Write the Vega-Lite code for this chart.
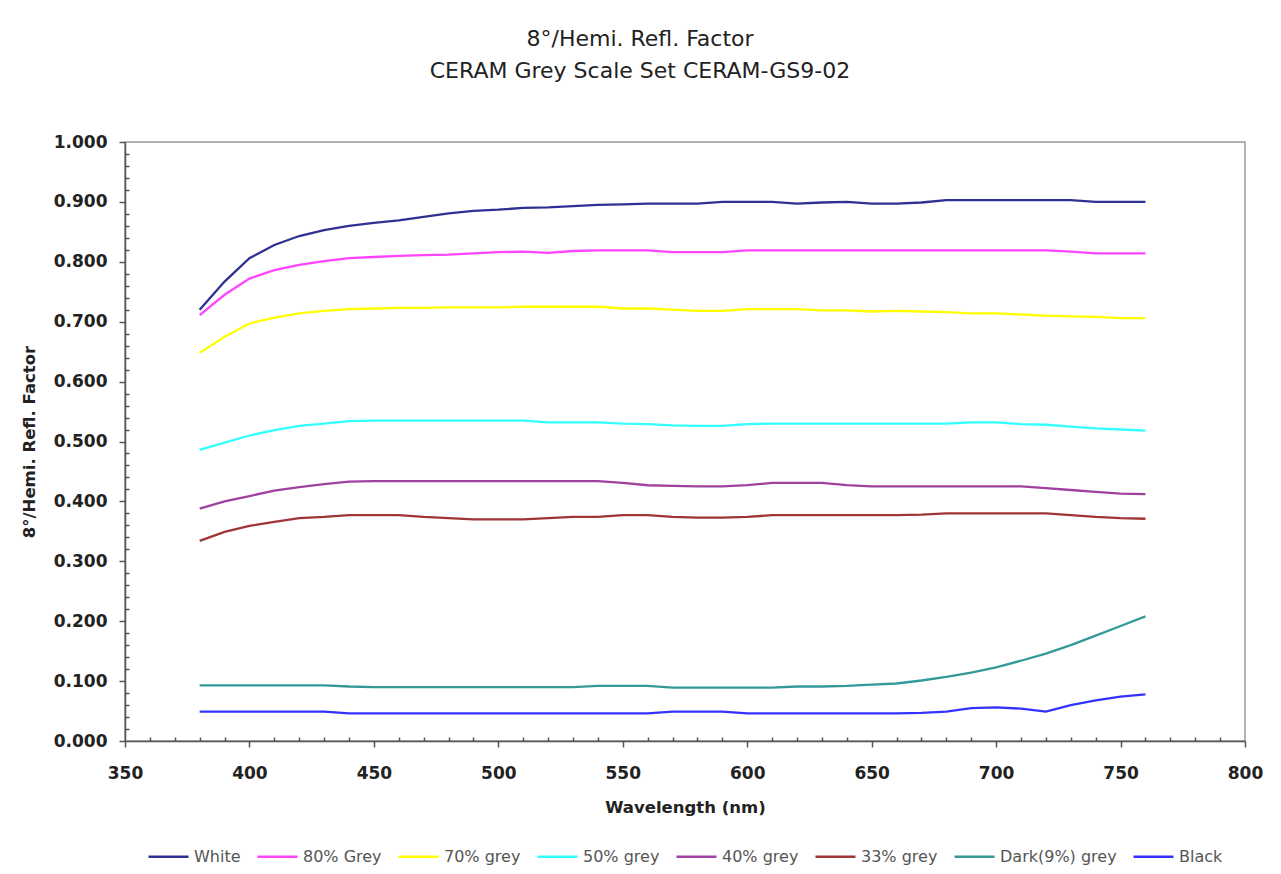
{
  "$schema": "https://vega.github.io/schema/vega-lite/v6.json",
  "width": 1120,
  "height": 599,
  "autosize": "none",
  "padding": {"left": 125, "top": 142, "right": 36, "bottom": 133},
  "background": "white",
  "config": {"view": {"stroke": "#999999", "strokeWidth": 1.5}, "font": "DejaVu Sans"},
  "title": {
    "text": ["8°/Hemi. Refl. Factor", "CERAM Grey Scale Set CERAM-GS9-02"],
    "fontSize": 22, "fontWeight": "normal", "font": "DejaVu Sans", "color": "#222222",
    "lineHeight": 32, "offset": 50, "dx": -45, "anchor": "middle"
  },
  "data": {"values": [
    {"nm": 380, "White": 0.720, "80% Grey": 0.711, "70% grey": 0.648, "50% grey": 0.486, "40% grey": 0.388, "33% grey": 0.334, "Dark(9%) grey": 0.093, "Black": 0.049},
    {"nm": 390, "White": 0.767, "80% Grey": 0.745, "70% grey": 0.675, "50% grey": 0.498, "40% grey": 0.400, "33% grey": 0.349, "Dark(9%) grey": 0.093, "Black": 0.049},
    {"nm": 400, "White": 0.806, "80% Grey": 0.772, "70% grey": 0.697, "50% grey": 0.510, "40% grey": 0.409, "33% grey": 0.359, "Dark(9%) grey": 0.093, "Black": 0.049},
    {"nm": 410, "White": 0.828, "80% Grey": 0.786, "70% grey": 0.707, "50% grey": 0.519, "40% grey": 0.418, "33% grey": 0.366, "Dark(9%) grey": 0.093, "Black": 0.049},
    {"nm": 420, "White": 0.843, "80% Grey": 0.795, "70% grey": 0.714, "50% grey": 0.526, "40% grey": 0.424, "33% grey": 0.372, "Dark(9%) grey": 0.093, "Black": 0.049},
    {"nm": 430, "White": 0.853, "80% Grey": 0.801, "70% grey": 0.718, "50% grey": 0.530, "40% grey": 0.429, "33% grey": 0.374, "Dark(9%) grey": 0.093, "Black": 0.049},
    {"nm": 440, "White": 0.860, "80% Grey": 0.806, "70% grey": 0.721, "50% grey": 0.534, "40% grey": 0.433, "33% grey": 0.377, "Dark(9%) grey": 0.091, "Black": 0.046},
    {"nm": 450, "White": 0.865, "80% Grey": 0.808, "70% grey": 0.722, "50% grey": 0.535, "40% grey": 0.434, "33% grey": 0.377, "Dark(9%) grey": 0.090, "Black": 0.046},
    {"nm": 460, "White": 0.869, "80% Grey": 0.810, "70% grey": 0.723, "50% grey": 0.535, "40% grey": 0.434, "33% grey": 0.377, "Dark(9%) grey": 0.090, "Black": 0.046},
    {"nm": 470, "White": 0.875, "80% Grey": 0.811, "70% grey": 0.723, "50% grey": 0.535, "40% grey": 0.434, "33% grey": 0.374, "Dark(9%) grey": 0.090, "Black": 0.046},
    {"nm": 480, "White": 0.881, "80% Grey": 0.812, "70% grey": 0.724, "50% grey": 0.535, "40% grey": 0.434, "33% grey": 0.372, "Dark(9%) grey": 0.090, "Black": 0.046},
    {"nm": 490, "White": 0.885, "80% Grey": 0.814, "70% grey": 0.724, "50% grey": 0.535, "40% grey": 0.434, "33% grey": 0.370, "Dark(9%) grey": 0.090, "Black": 0.046},
    {"nm": 500, "White": 0.887, "80% Grey": 0.816, "70% grey": 0.724, "50% grey": 0.535, "40% grey": 0.434, "33% grey": 0.370, "Dark(9%) grey": 0.090, "Black": 0.046},
    {"nm": 510, "White": 0.890, "80% Grey": 0.817, "70% grey": 0.725, "50% grey": 0.535, "40% grey": 0.434, "33% grey": 0.370, "Dark(9%) grey": 0.090, "Black": 0.046},
    {"nm": 520, "White": 0.891, "80% Grey": 0.815, "70% grey": 0.725, "50% grey": 0.532, "40% grey": 0.434, "33% grey": 0.372, "Dark(9%) grey": 0.090, "Black": 0.046},
    {"nm": 530, "White": 0.893, "80% Grey": 0.818, "70% grey": 0.725, "50% grey": 0.532, "40% grey": 0.434, "33% grey": 0.374, "Dark(9%) grey": 0.090, "Black": 0.046},
    {"nm": 540, "White": 0.895, "80% Grey": 0.819, "70% grey": 0.725, "50% grey": 0.532, "40% grey": 0.434, "33% grey": 0.374, "Dark(9%) grey": 0.092, "Black": 0.046},
    {"nm": 550, "White": 0.896, "80% Grey": 0.819, "70% grey": 0.722, "50% grey": 0.530, "40% grey": 0.431, "33% grey": 0.377, "Dark(9%) grey": 0.092, "Black": 0.046},
    {"nm": 560, "White": 0.897, "80% Grey": 0.819, "70% grey": 0.722, "50% grey": 0.529, "40% grey": 0.427, "33% grey": 0.377, "Dark(9%) grey": 0.092, "Black": 0.046},
    {"nm": 570, "White": 0.897, "80% Grey": 0.816, "70% grey": 0.720, "50% grey": 0.527, "40% grey": 0.426, "33% grey": 0.374, "Dark(9%) grey": 0.089, "Black": 0.049},
    {"nm": 580, "White": 0.897, "80% Grey": 0.816, "70% grey": 0.718, "50% grey": 0.526, "40% grey": 0.425, "33% grey": 0.373, "Dark(9%) grey": 0.089, "Black": 0.049},
    {"nm": 590, "White": 0.900, "80% Grey": 0.816, "70% grey": 0.718, "50% grey": 0.526, "40% grey": 0.425, "33% grey": 0.373, "Dark(9%) grey": 0.089, "Black": 0.049},
    {"nm": 600, "White": 0.900, "80% Grey": 0.819, "70% grey": 0.721, "50% grey": 0.529, "40% grey": 0.427, "33% grey": 0.374, "Dark(9%) grey": 0.089, "Black": 0.046},
    {"nm": 610, "White": 0.900, "80% Grey": 0.819, "70% grey": 0.721, "50% grey": 0.530, "40% grey": 0.431, "33% grey": 0.377, "Dark(9%) grey": 0.089, "Black": 0.046},
    {"nm": 620, "White": 0.897, "80% Grey": 0.819, "70% grey": 0.721, "50% grey": 0.530, "40% grey": 0.431, "33% grey": 0.377, "Dark(9%) grey": 0.091, "Black": 0.046},
    {"nm": 630, "White": 0.899, "80% Grey": 0.819, "70% grey": 0.719, "50% grey": 0.530, "40% grey": 0.431, "33% grey": 0.377, "Dark(9%) grey": 0.091, "Black": 0.046},
    {"nm": 640, "White": 0.900, "80% Grey": 0.819, "70% grey": 0.719, "50% grey": 0.530, "40% grey": 0.427, "33% grey": 0.377, "Dark(9%) grey": 0.092, "Black": 0.046},
    {"nm": 650, "White": 0.897, "80% Grey": 0.819, "70% grey": 0.717, "50% grey": 0.530, "40% grey": 0.425, "33% grey": 0.377, "Dark(9%) grey": 0.094, "Black": 0.046},
    {"nm": 660, "White": 0.897, "80% Grey": 0.819, "70% grey": 0.718, "50% grey": 0.530, "40% grey": 0.425, "33% grey": 0.377, "Dark(9%) grey": 0.096, "Black": 0.046},
    {"nm": 670, "White": 0.899, "80% Grey": 0.819, "70% grey": 0.717, "50% grey": 0.530, "40% grey": 0.425, "33% grey": 0.378, "Dark(9%) grey": 0.101, "Black": 0.047},
    {"nm": 680, "White": 0.903, "80% Grey": 0.819, "70% grey": 0.716, "50% grey": 0.530, "40% grey": 0.425, "33% grey": 0.380, "Dark(9%) grey": 0.107, "Black": 0.049},
    {"nm": 690, "White": 0.903, "80% Grey": 0.819, "70% grey": 0.714, "50% grey": 0.532, "40% grey": 0.425, "33% grey": 0.380, "Dark(9%) grey": 0.114, "Black": 0.055},
    {"nm": 700, "White": 0.903, "80% Grey": 0.819, "70% grey": 0.714, "50% grey": 0.532, "40% grey": 0.425, "33% grey": 0.380, "Dark(9%) grey": 0.123, "Black": 0.056},
    {"nm": 710, "White": 0.903, "80% Grey": 0.819, "70% grey": 0.712, "50% grey": 0.529, "40% grey": 0.425, "33% grey": 0.380, "Dark(9%) grey": 0.134, "Black": 0.054},
    {"nm": 720, "White": 0.903, "80% Grey": 0.819, "70% grey": 0.710, "50% grey": 0.528, "40% grey": 0.422, "33% grey": 0.380, "Dark(9%) grey": 0.146, "Black": 0.049},
    {"nm": 730, "White": 0.903, "80% Grey": 0.817, "70% grey": 0.709, "50% grey": 0.525, "40% grey": 0.419, "33% grey": 0.377, "Dark(9%) grey": 0.160, "Black": 0.060},
    {"nm": 740, "White": 0.900, "80% Grey": 0.814, "70% grey": 0.708, "50% grey": 0.522, "40% grey": 0.416, "33% grey": 0.374, "Dark(9%) grey": 0.176, "Black": 0.068},
    {"nm": 750, "White": 0.900, "80% Grey": 0.814, "70% grey": 0.706, "50% grey": 0.520, "40% grey": 0.413, "33% grey": 0.372, "Dark(9%) grey": 0.192, "Black": 0.074},
    {"nm": 760, "White": 0.900, "80% Grey": 0.814, "70% grey": 0.706, "50% grey": 0.518, "40% grey": 0.412, "33% grey": 0.371, "Dark(9%) grey": 0.208, "Black": 0.078}
  ]},
  "transform": [
    {"fold": ["White", "80% Grey", "70% grey", "50% grey", "40% grey", "33% grey", "Dark(9%) grey", "Black"], "as": ["series", "value"]}
  ],
  "mark": {"type": "line", "strokeWidth": 2.3},
  "encoding": {
    "x": {
      "field": "nm", "type": "quantitative",
      "scale": {"domain": [350, 800], "nice": false, "zero": false},
      "axis": {
        "title": "Wavelength (nm)",
        "titleFont": "DejaVu Sans", "titleFontSize": 16.5, "titleFontWeight": "bold", "titleColor": "#222222", "titlePadding": 18,
        "values": [350,360,370,380,390,400,410,420,430,440,450,460,470,480,490,500,510,520,530,540,550,560,570,580,590,600,610,620,630,640,650,660,670,680,690,700,710,720,730,740,750,760,770,780,790,800],
        "labelExpr": "datum.value % 50 === 0 ? datum.label : ''",
        "labelFont": "DejaVu Sans", "labelFontSize": 17, "labelFontWeight": "bold", "labelColor": "#222222",
        "labelPadding": 18, "labelFlush": false, "labelOverlap": false,
        "tickSize": {"condition": {"test": "datum.value % 50 === 0", "value": 6}, "value": -4},
        "tickColor": "#555555", "tickWidth": 1.5,
        "domainColor": "#555555", "domainWidth": 1.5, "grid": false
      }
    },
    "y": {
      "field": "value", "type": "quantitative",
      "scale": {"domain": [0, 1], "nice": false},
      "axis": {
        "title": "8°/Hemi. Refl. Factor",
        "titleFont": "DejaVu Sans", "titleFontSize": 16.5, "titleFontWeight": "bold", "titleColor": "#222222", "titlePadding": 16,
        "values": [0,0.02,0.04,0.06,0.08,0.1,0.12,0.14,0.16,0.18,0.2,0.22,0.24,0.26,0.28,0.3,0.32,0.34,0.36,0.38,0.4,0.42,0.44,0.46,0.48,0.5,0.52,0.54,0.56,0.58,0.6,0.62,0.64,0.66,0.68,0.7,0.72,0.74,0.76,0.78,0.8,0.82,0.84,0.86,0.88,0.9,0.92,0.94,0.96,0.98,1],
        "format": ".3f",
        "labelExpr": "round(datum.value * 100) % 10 === 0 ? datum.label : ''",
        "labelFont": "DejaVu Sans", "labelFontSize": 17, "labelFontWeight": "bold", "labelColor": "#222222",
        "labelPadding": 12, "labelFlush": false, "labelOverlap": false,
        "tickSize": {"condition": {"test": "round(datum.value * 100) % 10 === 0", "value": 6}, "value": -4},
        "tickColor": "#555555", "tickWidth": 1.5,
        "domainColor": "#555555", "domainWidth": 1.5, "grid": false
      }
    },
    "color": {
      "field": "series", "type": "nominal",
      "scale": {
        "domain": ["White", "80% Grey", "70% grey", "50% grey", "40% grey", "33% grey", "Dark(9%) grey", "Black"],
        "range": ["#2E3192", "#FF44FF", "#FFFF00", "#33FFFF", "#A040A0", "#A03535", "#339999", "#3333FF"]
      },
      "legend": {
        "title": null, "orient": "none", "direction": "horizontal",
        "legendX": 22, "legendY": 693,
        "symbolType": "stroke", "symbolSize": 1600, "symbolStrokeWidth": 2.5,
        "labelFont": "DejaVu Sans", "labelFontSize": 16, "labelColor": "#555555",
        "labelOffset": 4, "columnPadding": 11
      }
    }
  }
}
